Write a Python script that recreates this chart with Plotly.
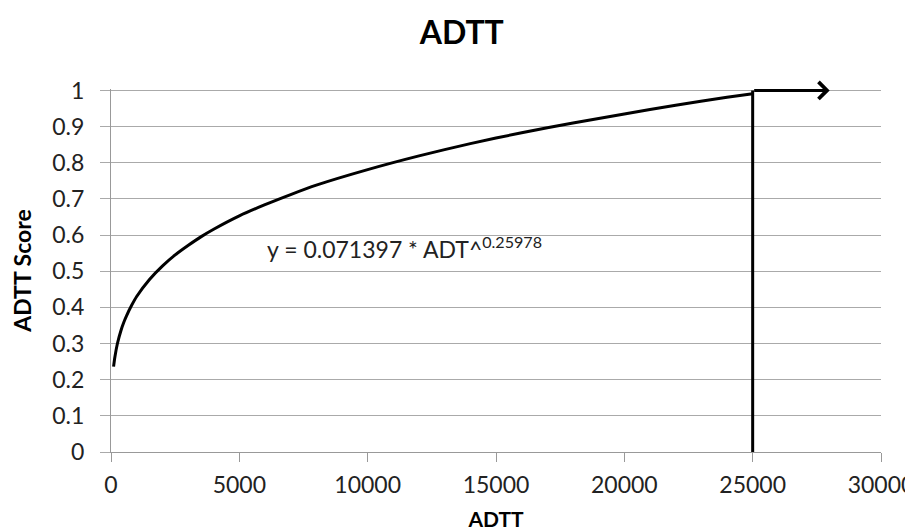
import plotly.graph_objects as go

# Values
adt = [100, 150, 250, 400, 500, 600, 800, 1000, 1500, 2000, 2500, 3000, 3500,
       4000, 5000, 6000, 7000, 8000, 10000, 12000, 14000, 16000, 18000,
       20000, 22000, 24000, 25000]
score = [0.236, 0.262, 0.300, 0.339, 0.359, 0.376, 0.405, 0.430, 0.477, 0.514,
         0.545, 0.571, 0.595, 0.616, 0.653, 0.684, 0.712, 0.738, 0.781, 0.819,
         0.853, 0.883, 0.910, 0.935, 0.959, 0.981, 0.991]

cap_x = [25000, 25000]
cap_y = [0, 1]
arrow_start = 25000
arrow_end = 28000
arrow_level = 1

x_ticks = [0, 5000, 10000, 15000, 20000, 25000, 30000]
y_ticks = [0, 0.1, 0.2, 0.3, 0.4, 0.5, 0.6, 0.7, 0.8, 0.9, 1]

FONT = "Lato"
fig = go.Figure()
fig.add_trace(go.Scatter(x=adt, y=score, mode="lines",
                         line=dict(color="black", width=3, shape="spline", smoothing=0.6),
                         showlegend=False))
fig.add_trace(go.Scatter(x=cap_x, y=cap_y, mode="lines",
                         line=dict(color="black", width=3), showlegend=False))
fig.add_annotation(x=arrow_end, y=arrow_level, ax=arrow_start, ay=arrow_level,
                   xref="x", yref="y", axref="x", ayref="y", text="",
                   showarrow=True, arrowhead=4, arrowwidth=3, arrowsize=1.1,
                   arrowcolor="black")
fig.add_annotation(x=6000, y=0.565, xref="x", yref="y", xanchor="left",
                   text="y = 0.071397 * ADT^<sup>0.25978</sup>", showarrow=False,
                   font=dict(family=FONT, size=23, color="#222"))

fig.update_layout(
    width=913, height=529,
    margin=dict(l=103, r=40, t=81, b=85),
    paper_bgcolor="white", plot_bgcolor="white",
    title=dict(text="<b>ADTT</b>", x=0.497, xanchor="center", y=0.953, yanchor="middle",
               font=dict(family=FONT, size=32, color="black")),
    font=dict(family=FONT, size=23, color="#222"),
)
fig.update_xaxes(range=[0, 30000], tickvals=x_ticks, ticktext=[str(v) for v in x_ticks],
                 showgrid=False, showline=True, linecolor="#999", linewidth=1,
                 ticks="outside", ticklen=9, tickcolor="#999", zeroline=False,
                 ticklabelstandoff=3, automargin=False,
                 title=dict(text="<b>ADTT</b>", font=dict(family=FONT, size=21, color="black"),
                            standoff=15))
fig.update_yaxes(range=[0, 1.004], tickvals=y_ticks, ticktext=[f"{v:g}" for v in y_ticks],
                 showgrid=True, gridcolor="#aaa", gridwidth=1,
                 showline=True, linecolor="#999", linewidth=1,
                 ticks="outside", ticklen=10, tickcolor="#aaa", zeroline=False,
                 ticklabelstandoff=11, automargin=False,
                 title=dict(text="<b>ADTT Score</b>", font=dict(family=FONT, size=23, color="black"),
                            standoff=16))

fig.write_html("out.html")
